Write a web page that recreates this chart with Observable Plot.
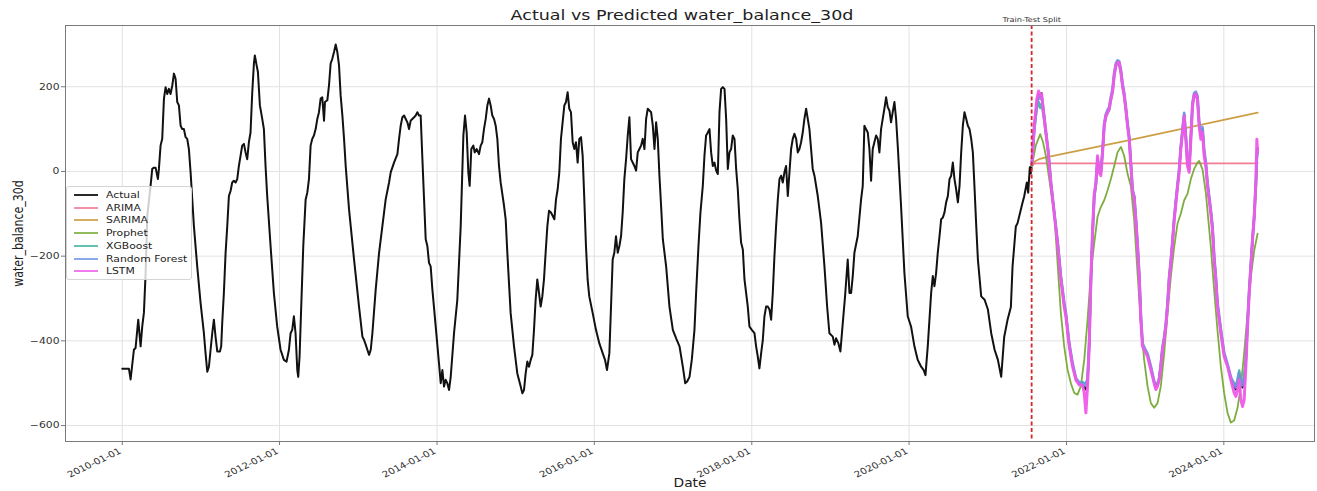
<!DOCTYPE html>
<html>
<head>
<meta charset="utf-8">
<script src="https://cdn.jsdelivr.net/npm/d3@7"></script>
<script src="https://cdn.jsdelivr.net/npm/@observablehq/plot@0.6"></script>
<style>
  body { margin: 0; background: #fff; font-family: "DejaVu Sans", sans-serif; }
  #wrap { position: relative; width: 1317px; height: 491px; overflow: hidden; }
  .legend { position: absolute; left: 66px; top: 186px; width: 126px; height: 94px;
    background: rgba(255,255,255,0.8); border: 1px solid #d4d4d4; border-radius: 3px;
    box-sizing: border-box; padding: 1.5px 0 0 7px; font-size: 9px; color: #222; }
  .legend .row { height: 12.77px; display: flex; align-items: center; white-space: nowrap; }
  .legend .sw { display: inline-block; flex: none; width: 24px; height: 2px; margin-right: 8px; }
  .legend .lb { display: inline-block; transform-origin: 0 50%; }
</style>
</head>
<body>
<div id="wrap"></div>
<script>
// Times are decimal years; values are the 30-day water balance.
const actualTrain = [
  [2010.000,-466],[2010.085,-466],[2010.106,-491],[2010.148,-421],[2010.169,-417],[2010.203,-350],
  [2010.233,-413],[2010.254,-366],[2010.275,-334],[2010.297,-240],[2010.318,-105],[2010.360,-34],
  [2010.381,6],[2010.403,9],[2010.424,9],[2010.453,-18],[2010.466,6],[2010.487,61],[2010.508,77],
  [2010.530,172],[2010.551,199],[2010.572,183],[2010.593,195],[2010.614,183],[2010.636,203],
  [2010.657,231],[2010.678,219],[2010.699,164],[2010.720,156],[2010.742,108],[2010.763,100],
  [2010.784,100],[2010.805,81],[2010.826,77],[2010.847,53],[2010.869,-2],[2010.890,-66],
  [2010.911,-129],[2010.953,-224],[2010.996,-311],[2011.038,-382],[2011.059,-429],[2011.081,-473],
  [2011.102,-461],[2011.123,-421],[2011.144,-382],[2011.165,-350],[2011.186,-390],[2011.208,-425],
  [2011.242,-425],[2011.258,-413],[2011.271,-358],[2011.292,-287],[2011.314,-192],[2011.335,-129],
  [2011.356,-58],[2011.377,-46],[2011.398,-26],[2011.419,-22],[2011.441,-26],[2011.462,-18],
  [2011.483,13],[2011.504,37],[2011.525,61],[2011.547,65],[2011.568,45],[2011.589,29],[2011.610,69],
  [2011.631,92],[2011.653,187],[2011.674,255],[2011.686,274],[2011.708,251],[2011.725,235],
  [2011.750,156],[2011.780,124],[2011.801,100],[2011.822,13],[2011.843,-58],[2011.886,-176],
  [2011.928,-287],[2011.970,-366],[2012.013,-421],[2012.055,-445],[2012.089,-449],[2012.119,-421],
  [2012.140,-382],[2012.161,-374],[2012.182,-342],[2012.203,-382],[2012.225,-469],[2012.237,-485],
  [2012.254,-437],[2012.275,-319],[2012.301,-176],[2012.331,-66],[2012.352,-50],[2012.373,-18],
  [2012.394,61],[2012.415,77],[2012.436,85],[2012.458,100],[2012.479,124],[2012.500,140],
  [2012.521,172],[2012.542,175],[2012.564,120],[2012.576,164],[2012.606,168],[2012.627,203],
  [2012.648,255],[2012.669,266],[2012.691,282],[2012.712,300],[2012.733,282],[2012.754,251],
  [2012.775,179],[2012.797,132],[2012.818,77],[2012.839,13],[2012.881,-89],[2012.945,-208],
  [2013.008,-319],[2013.051,-390],[2013.072,-398],[2013.093,-409],[2013.114,-421],[2013.136,-433],
  [2013.157,-421],[2013.178,-382],[2013.220,-279],[2013.263,-192],[2013.305,-129],[2013.347,-66],
  [2013.390,-26],[2013.411,-2],[2013.453,21],[2013.496,41],[2013.517,77],[2013.538,108],
  [2013.559,128],[2013.581,132],[2013.602,124],[2013.623,116],[2013.644,100],[2013.665,120],
  [2013.686,124],[2013.708,128],[2013.729,132],[2013.750,140],[2013.771,132],[2013.792,132],
  [2013.814,29],[2013.835,-66],[2013.856,-160],[2013.877,-176],[2013.898,-216],[2013.919,-224],
  [2013.941,-279],[2013.983,-366],[2014.025,-453],[2014.047,-500],[2014.068,-469],[2014.089,-508],
  [2014.110,-492],[2014.131,-500],[2014.153,-516],[2014.174,-485],[2014.216,-382],[2014.258,-303],
  [2014.301,-129],[2014.335,85],[2014.356,132],[2014.377,92],[2014.398,-2],[2014.415,-34],
  [2014.436,53],[2014.462,61],[2014.479,45],[2014.504,53],[2014.534,41],[2014.555,61],[2014.576,69],
  [2014.597,100],[2014.619,124],[2014.640,156],[2014.661,172],[2014.682,156],[2014.703,132],
  [2014.725,124],[2014.746,108],[2014.767,77],[2014.788,13],[2014.809,-26],[2014.852,-81],
  [2014.873,-113],[2014.894,-192],[2014.936,-334],[2014.979,-413],[2015.021,-477],[2015.064,-508],
  [2015.085,-524],[2015.106,-516],[2015.127,-477],[2015.148,-449],[2015.169,-461],[2015.191,-445],
  [2015.212,-433],[2015.233,-374],[2015.254,-303],[2015.275,-255],[2015.297,-287],[2015.318,-319],
  [2015.339,-295],[2015.360,-255],[2015.381,-192],[2015.403,-129],[2015.424,-93],[2015.449,-97],
  [2015.492,-113],[2015.513,-66],[2015.534,-42],[2015.555,-2],[2015.576,77],[2015.597,116],
  [2015.619,156],[2015.640,164],[2015.661,187],[2015.682,148],[2015.703,140],[2015.725,69],
  [2015.746,53],[2015.767,69],[2015.788,21],[2015.809,77],[2015.831,81],[2015.852,37],[2015.873,-66],
  [2015.894,-176],[2015.915,-255],[2015.936,-295],[2015.979,-334],[2016.021,-374],[2016.064,-406],
  [2016.106,-429],[2016.136,-445],[2016.161,-469],[2016.191,-429],[2016.212,-319],[2016.233,-208],
  [2016.254,-192],[2016.275,-153],[2016.297,-192],[2016.318,-176],[2016.339,-153],[2016.360,-97],
  [2016.381,-18],[2016.403,29],[2016.424,85],[2016.445,128],[2016.466,29],[2016.487,21],[2016.508,13],
  [2016.530,2],[2016.551,45],[2016.572,53],[2016.593,61],[2016.614,77],[2016.636,53],[2016.657,124],
  [2016.678,148],[2016.699,144],[2016.720,140],[2016.742,108],[2016.763,53],[2016.784,116],
  [2016.805,77],[2016.826,-10],[2016.847,-81],[2016.869,-160],[2016.911,-224],[2016.953,-319],
  [2016.996,-374],[2017.038,-394],[2017.081,-413],[2017.123,-461],[2017.153,-500],[2017.178,-496],
  [2017.208,-485],[2017.237,-445],[2017.271,-374],[2017.292,-287],[2017.322,-176],[2017.347,-97],
  [2017.377,-34],[2017.398,37],[2017.419,85],[2017.441,92],[2017.462,100],[2017.483,45],[2017.504,13],
  [2017.525,21],[2017.547,2],[2017.568,-6],[2017.589,140],[2017.610,195],[2017.631,199],[2017.653,195],
  [2017.674,124],[2017.695,6],[2017.716,45],[2017.737,53],[2017.758,85],[2017.780,77],[2017.801,6],
  [2017.822,-42],[2017.843,-113],[2017.864,-168],[2017.886,-184],[2017.907,-255],[2017.949,-319],
  [2017.970,-366],[2018.000,-374],[2018.034,-382],[2018.055,-413],[2018.076,-437],[2018.097,-465],
  [2018.119,-429],[2018.140,-398],[2018.161,-342],[2018.182,-319],[2018.203,-319],[2018.225,-326],
  [2018.246,-350],[2018.267,-287],[2018.288,-200],[2018.309,-129],[2018.331,-66],[2018.352,-18],
  [2018.373,-10],[2018.394,-26],[2018.415,-2],[2018.436,13],[2018.458,-58],[2018.479,-2],[2018.500,53],
  [2018.521,77],[2018.542,89],[2018.564,77],[2018.585,45],[2018.606,53],[2018.627,69],[2018.648,92],
  [2018.669,124],[2018.691,148],[2018.712,124],[2018.733,100],[2018.754,53],[2018.775,6],
  [2018.797,-10],[2018.839,-58],[2018.881,-121],[2018.924,-224],[2018.958,-319],[2018.987,-382],
  [2019.030,-390],[2019.051,-409],[2019.072,-394],[2019.102,-406],[2019.127,-425],[2019.157,-358],
  [2019.186,-295],[2019.220,-208],[2019.242,-287],[2019.263,-287],[2019.284,-247],[2019.305,-192],
  [2019.347,-153],[2019.390,-66],[2019.411,-34],[2019.432,108],[2019.453,100],[2019.475,92],
  [2019.496,53],[2019.517,-22],[2019.538,53],[2019.559,69],[2019.581,85],[2019.602,77],[2019.623,45],
  [2019.644,100],[2019.665,124],[2019.686,148],[2019.708,175],[2019.729,152],[2019.750,144],
  [2019.771,116],[2019.792,140],[2019.814,164],[2019.835,124],[2019.856,61],[2019.898,-81],
  [2019.941,-240],[2019.983,-342],[2020.025,-366],[2020.068,-413],[2020.110,-445],[2020.153,-461],
  [2020.186,-469],[2020.208,-481],[2020.237,-413],[2020.280,-287],[2020.301,-247],[2020.322,-271],
  [2020.343,-240],[2020.364,-192],[2020.386,-153],[2020.407,-113],[2020.428,-109],[2020.449,-97],
  [2020.470,-73],[2020.492,-58],[2020.513,-18],[2020.534,-10],[2020.555,21],[2020.576,-18],
  [2020.597,-42],[2020.619,-73],[2020.640,-34],[2020.661,45],[2020.682,108],[2020.703,140],
  [2020.725,124],[2020.746,108],[2020.767,100],[2020.788,77],[2020.809,45],[2020.831,-42],
  [2020.852,-129],[2020.873,-208],[2020.915,-295],[2020.958,-303],[2021.000,-326],[2021.042,-382],
  [2021.085,-421],[2021.127,-445],[2021.169,-485],[2021.207,-391],[2021.249,-351],[2021.292,-320],
  [2021.313,-225],[2021.355,-130],[2021.377,-122],[2021.419,-90],[2021.440,-74],[2021.461,-59],
  [2021.495,-26],[2021.512,-50],[2021.533,10],[2021.545,-5],[2021.558,17]
];

// Test period: shared time grid for the actual series and the ML models.
const testTime = [
  2021.559,2021.589,2021.623,2021.644,2021.665,2021.682,2021.708,2021.737,2021.767,2021.801,
  2021.843,2021.886,2021.928,2021.970,2021.992,2022.034,2022.076,2022.119,2022.161,2022.203,
  2022.225,2022.246,2022.267,2022.288,2022.309,2022.331,2022.352,2022.373,2022.394,2022.415,
  2022.436,2022.458,2022.479,2022.500,2022.521,2022.542,2022.564,2022.585,2022.606,2022.627,
  2022.648,2022.669,2022.691,2022.712,2022.733,2022.754,2022.775,2022.797,2022.818,2022.839,
  2022.860,2022.881,2022.903,2022.924,2022.945,2022.966,2022.987,2023.030,2023.072,2023.114,
  2023.136,2023.157,2023.178,2023.199,2023.220,2023.242,2023.263,2023.284,2023.305,2023.326,
  2023.347,2023.369,2023.390,2023.411,2023.432,2023.453,2023.475,2023.496,2023.517,2023.538,
  2023.559,2023.581,2023.602,2023.623,2023.644,2023.665,2023.686,2023.708,2023.729,2023.750,
  2023.771,2023.792,2023.814,2023.835,2023.856,2023.877,2023.898,2023.919,2023.962,2024.004,
  2024.047,2024.089,2024.131,2024.153,2024.174,2024.195,2024.216,2024.237,2024.258,2024.280,
  2024.301,2024.322,2024.343,2024.364,2024.386,2024.407,2024.419,2024.428
];
const actualTest = [
  17,104,165,182,176,185,140,94,46,-27,-97,-167,-252,-315,-340,-410,-457,-490,-502,-503,
  -510,-515,-498,-410,-260,-142,-57,-29,32,2,-5,48,110,133,142,150,173,192,229,253,
  260,258,237,205,182,150,112,80,16,-46,-59,-112,-175,-246,-346,-410,-419,-434,-465,-498,
  -508,-504,-490,-457,-418,-395,-363,-316,-253,-214,-168,-112,-73,-35,1,56,97,135,82,18,
  5,82,160,183,186,175,115,84,100,45,18,-30,-64,-96,-135,-205,-252,-315,-378,-433,
  -458,-488,-510,-515,-500,-480,-505,-510,-495,-448,-360,-284,-222,-160,-105,-28,45,55
];
const xgboostTest = [
  17,95,150,165,150,160,130,90,45,-28,-98,-168,-250,-312,-338,-408,-455,-490,-500,-497,
  -500,-500,-492,-408,-265,-150,-62,-32,25,3,-3,45,105,128,138,145,168,188,225,248,
  255,252,232,200,178,145,110,78,18,-45,-60,-112,-175,-245,-345,-408,-418,-432,-462,-498,
  -503,-500,-490,-458,-418,-393,-362,-315,-252,-212,-168,-112,-72,-35,2,55,95,132,80,18,
  5,80,156,178,180,170,112,82,98,45,18,-28,-62,-95,-133,-203,-250,-312,-375,-430,
  -458,-488,-500,-505,-490,-470,-495,-498,-485,-445,-360,-283,-222,-160,-105,-32,30,45
];
const forestTest = [
  17,100,160,178,172,180,142,95,48,-25,-95,-165,-248,-310,-335,-405,-452,-488,-498,-500,
  -503,-505,-490,-405,-262,-145,-60,-30,28,5,0,50,112,135,145,152,175,195,232,255,
  262,260,240,208,185,152,115,82,20,-42,-58,-110,-172,-242,-340,-405,-415,-430,-460,-495,
  -505,-502,-488,-455,-415,-390,-360,-312,-250,-210,-165,-110,-70,-32,5,58,100,138,85,22,
  10,85,162,185,188,178,118,88,105,50,22,-25,-60,-92,-130,-200,-248,-310,-372,-428,
  -455,-485,-505,-510,-495,-475,-500,-505,-490,-440,-355,-280,-220,-158,-102,-30,35,50
];
const lstmTest = [
  17,108,171,190,179,183,139,92,45,-30,-100,-170,-256,-319,-343,-413,-460,-492,-504,-504,
  -523,-570,-507,-413,-256,-139,-53,-28,37,-2,-10,45,108,131,139,147,171,187,226,250,
  257,257,234,202,179,147,108,76,13,-50,-60,-115,-178,-249,-351,-413,-421,-437,-468,-500,
  -515,-507,-492,-460,-421,-398,-366,-319,-256,-217,-170,-115,-76,-37,-2,53,92,131,76,13,
  -2,76,155,179,183,171,108,76,92,37,13,-34,-68,-100,-139,-209,-256,-319,-382,-437,
  -460,-492,-523,-531,-515,-492,-539,-555,-539,-460,-366,-288,-225,-162,-108,-21,76,45
];

const arimaForecast = [[2021.559,13],[2021.600,19],[2024.430,19]];
const sarimaForecast = [[2021.559,13],[2021.600,24],[2021.650,29],[2021.736,33],[2022.754,72],[2024.430,139]];
const prophetForecast = [
  [2021.559,13],[2021.610,62],[2021.665,88],[2021.700,70],[2021.737,37],[2021.801,-45],
  [2021.843,-97],[2021.886,-217],[2021.928,-335],[2021.970,-413],[2022.013,-468],[2022.055,-500],
  [2022.098,-523],[2022.140,-527],[2022.182,-507],[2022.225,-445],[2022.267,-351],[2022.309,-241],
  [2022.352,-170],[2022.394,-107],[2022.436,-84],[2022.479,-68],[2022.521,-45],[2022.564,-18],
  [2022.606,13],[2022.648,45],[2022.691,58],[2022.733,37],[2022.775,-5],[2022.818,-35],
  [2022.860,-115],[2022.903,-241],[2022.945,-358],[2022.987,-445],[2023.030,-507],[2023.072,-547],
  [2023.114,-558],[2023.157,-547],[2023.199,-507],[2023.242,-429],[2023.284,-335],[2023.326,-249],
  [2023.369,-178],[2023.411,-123],[2023.453,-100],[2023.496,-68],[2023.538,-53],[2023.581,-18],
  [2023.623,6],[2023.665,21],[2023.686,25],[2023.729,5],[2023.771,-50],[2023.835,-178],
  [2023.877,-280],[2023.919,-374],[2023.962,-460],[2024.004,-523],[2024.047,-570],[2024.089,-593],
  [2024.131,-588],[2024.174,-558],[2024.216,-507],[2024.258,-429],[2024.301,-335],[2024.343,-249],
  [2024.386,-186],[2024.428,-147]
];

const splitDate = "2021-07-23";
const xTickLabels = ["2010-01-01","2012-01-01","2014-01-01","2016-01-01","2018-01-01","2020-01-01","2022-01-01","2024-01-01"];
const yTickValues = [-600, -400, -200, 0, 200];
const seriesNames = ["Actual","ARIMA","SARIMA","Prophet","XGBoost","Random Forest","LSTM"];
const seriesColors = ["#111111","#f0768e","#c99a3c","#76a935","#3db39c","#6c93e6","#ee5ae8"];
const titleText = "Actual vs Predicted water_balance_30d";
const xLabel = "Date";
const yLabel = "water_balance_30d";

// The figure is shown a little wider than it was drawn, so glyphs are widened.
const TEXT_STRETCH = 1.2;

// Decimal year -> Date (UTC)
function fromDecimalYear(t) {
  const y = Math.floor(t);
  const a = Date.UTC(y, 0, 1), b = Date.UTC(y + 1, 0, 1);
  return new Date(a + (t - y) * (b - a));
}
const pairs = (arr) => arr.map(([t, v]) => ({date: fromDecimalYear(t), value: v}));
const zipTest = (vals) => testTime.map((t, i) => ({date: fromDecimalYear(t), value: vals[i]}));

const actual = pairs(actualTrain).concat(zipTest(actualTest).slice(1));
const arima = pairs(arimaForecast);
const sarima = pairs(sarimaForecast);
const prophet = pairs(prophetForecast);
const xgb = zipTest(xgboostTest);
const forest = zipTest(forestTest);
const lstm = zipTest(lstmTest);

const all = [actual, arima, sarima, prophet, xgb, forest, lstm].flat();
// 5% padding on both axes, like a matplotlib autoscale
const [t0, t1] = d3.extent(all, d => +d.date);
const [v0, v1] = d3.extent(all, d => d.value);
const xDomain = [new Date(t0 - 0.05 * (t1 - t0)), new Date(t1 + 0.05 * (t1 - t0))];
const yDomain = [v0 - 0.05 * (v1 - v0), v1 + 0.05 * (v1 - v0)];
const xTicks = xTickLabels.map(s => new Date(s));
const split = new Date(splitDate);
const fmtDate = d3.utcFormat("%Y-%m-%d");

const lineOpts = (c, w, o) => ({x: "date", y: "value", stroke: c, strokeWidth: w, strokeOpacity: o, strokeLinejoin: "round"});

const chart = Plot.plot({
  width: 1317,
  height: 491,
  marginLeft: 65,
  marginRight: 3,
  marginTop: 25,
  marginBottom: 50,
  style: {fontFamily: "'DejaVu Sans', sans-serif", fontSize: "9px", color: "#333", background: "#fff", overflow: "visible"},
  x: {type: "utc", domain: xDomain},
  y: {domain: yDomain},
  marks: [
    Plot.gridX(xTicks, {stroke: "#e2e2e2", strokeOpacity: 1}),
    Plot.gridY(yTickValues, {stroke: "#e2e2e2", strokeOpacity: 1}),
    Plot.axisY({ticks: yTickValues, tickSize: 4, tickPadding: 2, label: null, stroke: "#777", fontSize: 9}),
    // x tick marks; slanted date labels drawn as a text mark below
    Plot.axisX({ticks: xTicks, tickFormat: () => "", tickSize: 4, label: null, stroke: "#777"}),
    Plot.text(xTicks, {x: d => d, frameAnchor: "bottom", text: d => fmtDate(d), rotate: -30, textAnchor: "end", lineAnchor: "top", dx: -4, dy: 6, fontSize: 8.6, fill: "#333"}),
    Plot.text([yLabel], {frameAnchor: "left", dx: -47, rotate: -90, textAnchor: "middle", fontSize: 11, fill: "#222"}),
    Plot.text([xLabel], {frameAnchor: "bottom", dy: 45, textAnchor: "middle", fontSize: 11.5, fill: "#222"}),
    Plot.text([titleText], {frameAnchor: "top", dy: -10, lineAnchor: "middle", fontSize: 14.6, fill: "#222", dx: -8}),
    Plot.line(actual, lineOpts(seriesColors[0], 2, 1)),
    Plot.line(arima, lineOpts(seriesColors[1], 1.6, 0.95)),
    Plot.line(sarima, lineOpts(seriesColors[2], 1.8, 0.95)),
    Plot.line(prophet, lineOpts(seriesColors[3], 1.8, 0.95)),
    Plot.line(xgb, lineOpts(seriesColors[4], 2.4, 0.9)),
    Plot.line(forest, lineOpts(seriesColors[5], 2.8, 0.9)),
    Plot.line(lstm, lineOpts(seriesColors[6], 3, 0.95)),
    Plot.ruleX([split], {stroke: "#d62728", strokeWidth: 1.8, strokeDasharray: "4,2.5"}),
    Plot.text([split], {x: d => d, frameAnchor: "top", dy: -5.5, lineAnchor: "middle", text: () => "Train-Test Split", fontSize: 6.8, fill: "#333"}),
    Plot.frame({stroke: "#7a7a7a"})
  ]
});

// Widen every glyph about its own anchor point
chart.querySelectorAll("text").forEach(t => {
  const tr = t.getAttribute("transform");
  if (tr && /^translate\(/.test(tr)) {
    t.setAttribute("transform", tr.replace(/^(translate\([^)]*\))/, `$1 scale(${TEXT_STRETCH},1)`));
  } else {
    const x = +(t.getAttribute("x") || 0), y = +(t.getAttribute("y") || 0);
    t.setAttribute("transform", `translate(${x},${y}) scale(${TEXT_STRETCH},1)${tr ? " " + tr : ""}`);
    t.setAttribute("x", 0);
    t.setAttribute("y", 0);
  }
});

const wrap = document.getElementById("wrap");
wrap.appendChild(chart);

// Legend box drawn over the upper-left of the plot area
const legend = document.createElement("div");
legend.className = "legend";
seriesNames.forEach((name, i) => {
  const row = document.createElement("div");
  row.className = "row";
  const sw = document.createElement("span");
  sw.className = "sw";
  sw.style.background = seriesColors[i];
  sw.style.opacity = i === 0 ? 0.9 : 0.8;
  const label = document.createElement("span");
  label.className = "lb";
  label.style.transform = `scaleX(${TEXT_STRETCH})`;
  label.textContent = name;
  row.appendChild(sw);
  row.appendChild(label);
  legend.appendChild(row);
});
wrap.appendChild(legend);
</script>
</body>
</html>
